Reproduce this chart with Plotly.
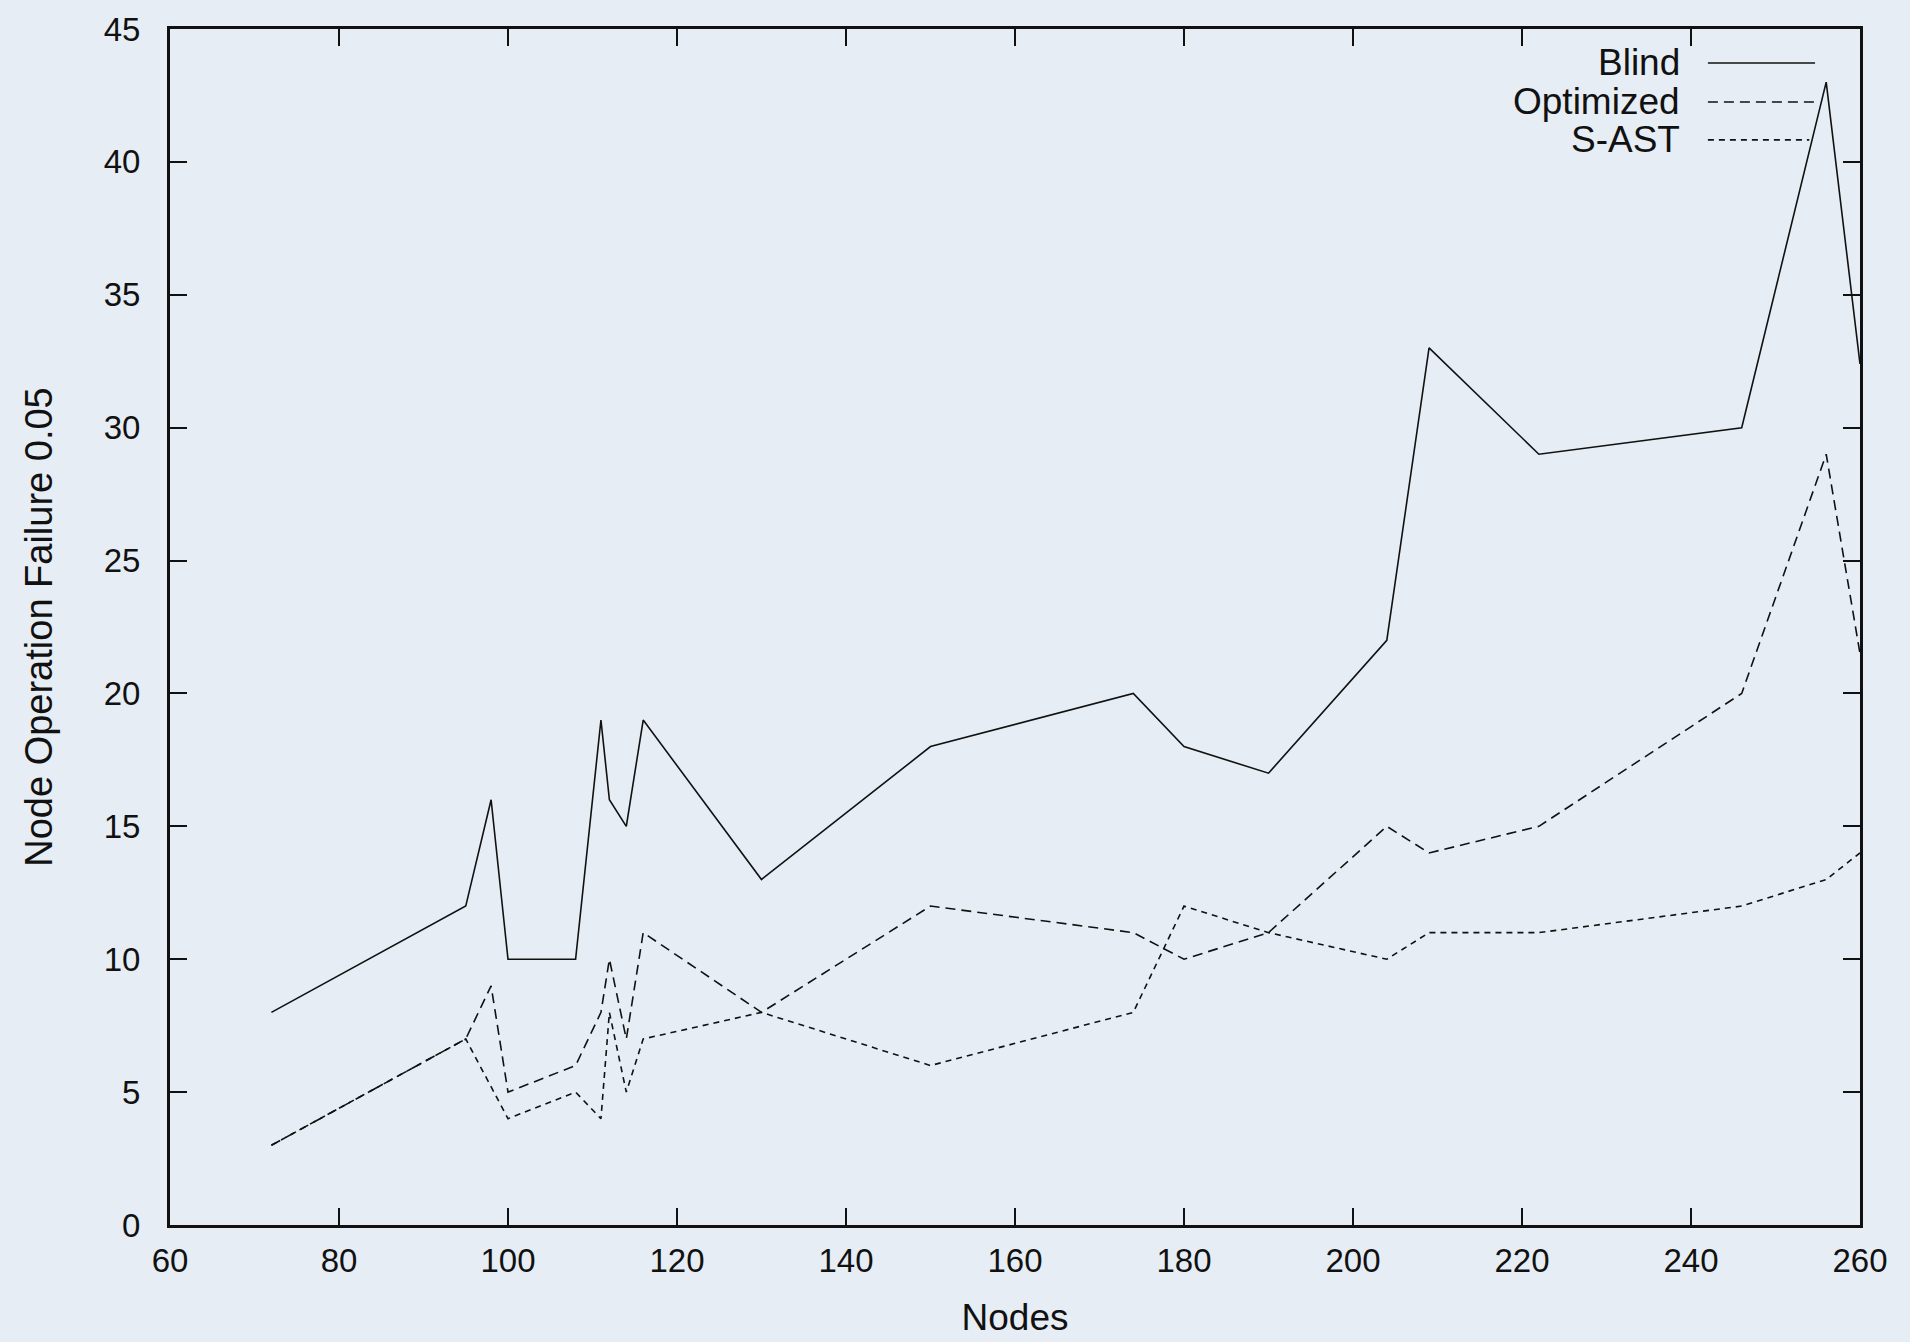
import plotly.graph_objects as go

nodes_blind = [72, 95, 98, 100, 108, 111, 112, 114, 116, 130, 150, 174, 180, 190, 204, 209, 222, 246, 256, 260]
blind = [8, 12, 16, 10, 10, 19, 16, 15, 19, 13, 18, 20, 18, 17, 22, 33, 29, 30, 43, 32.4]

nodes_opt = [72, 95, 98, 100, 108, 111, 112, 114, 116, 130, 150, 174, 180, 190, 204, 209, 222, 246, 256, 260]
optimized = [3, 7, 9, 5, 6, 8, 10, 7, 11, 8, 12, 11, 10, 11, 15, 14, 15, 20, 29, 21.5]

nodes_sast = [72, 95, 100, 108, 111, 112, 114, 116, 130, 150, 174, 180, 190, 204, 209, 222, 246, 256, 260]
sast = [3, 7, 4, 5, 4, 8, 5, 7, 8, 6, 8, 12, 11, 10, 11, 11, 12, 13, 14]

series_names = ["Blind", "Optimized", "S-AST"]
dashes = ["solid", "10px,6px", "6px,5px"]

x_ticks = [60, 80, 100, 120, 140, 160, 180, 200, 220, 240, 260]
y_ticks = [0, 5, 10, 15, 20, 25, 30, 35, 40, 45]

FONT = "Liberation Sans, Arial, Helvetica, sans-serif"
BG = "#e7edf4"
INK = "#111111"

fig = go.Figure()
for xs, ys, name, dash in zip([nodes_blind, nodes_opt, nodes_sast], [blind, optimized, sast], series_names, dashes):
    fig.add_trace(go.Scatter(x=xs, y=ys, mode="lines", name=name,
                             line=dict(color=INK, width=1.6, dash=dash),
                             showlegend=False))

# custom legend (gnuplot style: text right-aligned, sample on the right)
leg_y = [0.9716, 0.939, 0.9073]
leg_x1 = [0.9734, 0.9734, 0.970]
for name, dash, yy, x1 in zip(series_names, dashes, leg_y, leg_x1):
    fig.add_annotation(x=0.8948, y=yy, xref="paper", yref="paper", text=name,
                       showarrow=False, xanchor="right", yanchor="middle",
                       font=dict(family=FONT, size=37, color=INK))
    fig.add_shape(type="line", xref="paper", yref="paper", x0=0.910, x1=x1, y0=yy, y1=yy,
                  line=dict(color=INK, width=1.6, dash=dash))

axis_common = dict(showgrid=False, zeroline=False, showline=True, mirror="ticks",
                   linecolor=INK, linewidth=3, ticks="inside", ticklen=17,
                   tickwidth=2, tickcolor=INK,
                   tickfont=dict(family=FONT, size=33, color=INK))

fig.update_xaxes(range=[60, 260], tickvals=x_ticks, ticktext=[str(v) for v in x_ticks],
                 ticklabelstandoff=4,
                 title=dict(text="Nodes", font=dict(family=FONT, size=37, color=INK), standoff=27),
                 **axis_common)
fig.update_yaxes(range=[0, 45], tickvals=y_ticks, ticktext=[str(v) for v in y_ticks],
                 ticklabelstandoff=20,
                 title=dict(text="Node Operation Failure 0.05", font=dict(family=FONT, size=38, color=INK), standoff=40),
                 **axis_common)

fig.update_layout(width=1910, height=1342, paper_bgcolor=BG, plot_bgcolor=BG,
                  margin=dict(l=170, r=50, t=29, b=117, autoexpand=False),
                  font=dict(family=FONT, color=INK))

fig.write_html("out.html", config={"displayModeBar": False},
               post_script="document.body.style.margin='0';document.body.style.background='%s';" % BG)
